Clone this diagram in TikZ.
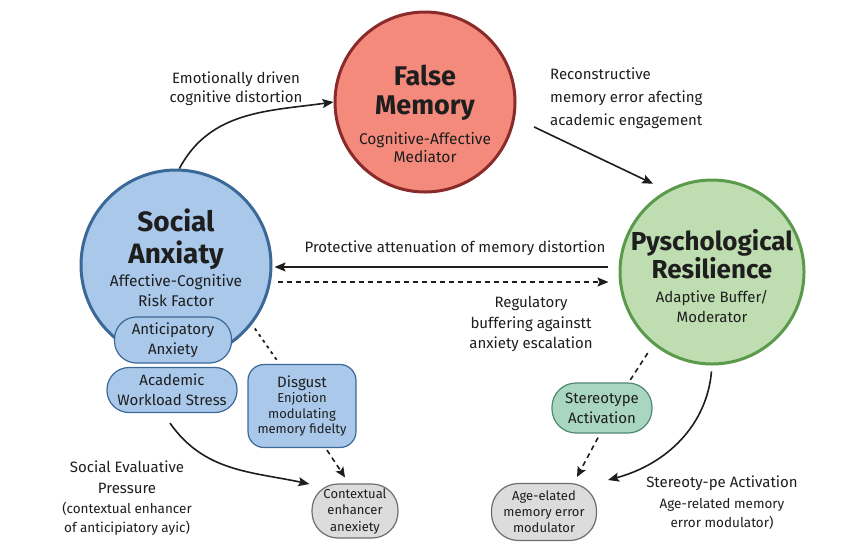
\documentclass[tikz,border=0pt]{standalone}
\usepackage{fontspec}
\setmainfont{Fira Sans}
\usetikzlibrary{arrows.meta}
\definecolor{safill}{HTML}{A9C8EA}
\definecolor{sadraw}{HTML}{3C6898}
\definecolor{fmfill}{HTML}{F48A7C}
\definecolor{fmdraw}{HTML}{8A2A2A}
\definecolor{prfill}{HTML}{BEDDB0}
\definecolor{prdraw}{HTML}{5A9A4A}
\definecolor{stfill}{HTML}{A9D6C0}
\definecolor{stdraw}{HTML}{4E8A70}
\definecolor{gyfill}{HTML}{DCDCDC}
\definecolor{gydraw}{HTML}{6E6E6E}
\definecolor{ink}{HTML}{1E1E1E}
\tikzset{
  bigcirc/.style={circle, line width=3pt, inner sep=0pt},
  titletxt/.style={font=\fontsize{27}{30}\selectfont\bfseries, text=ink, align=center, inner sep=0pt},
  subtxt/.style={font=\fontsize{15.5}{19}\selectfont, text=ink, align=center, inner sep=0pt},
  lbl/.style={font=\fontsize{15}{20}\selectfont, text=ink, align=center, inner sep=0pt},
  smlbl/.style={font=\fontsize{13.5}{19}\selectfont, text=ink, align=center, inner sep=0pt},
  pill/.style={draw, line width=1.2pt, align=center, inner sep=0pt, text=ink},
  bluepill/.style={pill, fill=safill, draw=sadraw, font=\fontsize{15}{20}\selectfont},
  conn/.style={draw=ink, line width=1.6pt, -{Stealth[length=11pt,width=9pt,inset=2pt]}},
  connplain/.style={draw=ink, line width=1.6pt},
  dashconn/.style={draw=ink, line width=1.6pt, dash pattern=on 5pt off 4pt},
  dotconn/.style={draw=ink, line width=1.8pt, dash pattern=on 3pt off 4pt},
}
\begin{document}
\begin{tikzpicture}[x=1pt,y=-1pt]
\useasboundingbox[fill=white] (0,0) rectangle (845,558);

% big circles
\node[bigcirc, fill=safill, draw=sadraw, minimum size=190pt] (sa) at (176,265) {};
\node[bigcirc, fill=fmfill, draw=fmdraw, minimum size=180pt] (fm) at (425,102) {};
\node[bigcirc, fill=prfill, draw=prdraw, minimum size=184pt] (pr) at (712,272) {};

% circle texts
\node[titletxt, font=\fontsize{28}{32}\selectfont\bfseries] (saT) at (176,239) {Social\\Anxiaty};
\node[subtxt, font=\fontsize{15.5}{20}\selectfont] (saS) at (176,291) {Affective-Cognitive\\Risk Factor};
\node[titletxt, font=\fontsize{27}{29}\selectfont\bfseries] (fmT) at (425,93) {False\\Memory};
\node[subtxt, font=\fontsize{15.5}{18}\selectfont] (fmS) at (425,148) {Cognitive-Affective\\Mediator};
\node[titletxt, font=\fontsize{26}{28}\selectfont\bfseries] (prT) at (712,254) {Pyschological\\Resilience};
\node[subtxt, font=\fontsize{15}{20}\selectfont] (prS) at (712,307) {Adaptive Buffer/\\Moderator};

% small nodes
\node[bluepill, rounded corners=22pt, minimum width=117pt, minimum height=46pt] (ant) at (173,340) {Anticipatory\\Anxiety};
\node[bluepill, rounded corners=22pt, minimum width=130pt, minimum height=45pt] (aws) at (172,390) {Academic\\Workload Stress};
\node[pill, fill=safill, draw=sadraw, rounded corners=16pt, minimum width=108pt, minimum height=83pt,
      font=\fontsize{13}{15.5}\selectfont] (dis) at (302,406) {{\fontsize{15}{17}\selectfont Disgust}\\Enjotion\\modulating\\memory fidelty};
\node[pill, fill=gyfill, draw=gydraw, rounded corners=26pt, minimum width=86pt, minimum height=54pt,
      font=\fontsize{13}{16.5}\selectfont] (ctx) at (355,511) {Contextual\\enhancer\\anexiety};
\node[pill, fill=stfill, draw=stdraw, rounded corners=24pt, minimum width=100pt, minimum height=50pt,
      font=\fontsize{15}{20}\selectfont] (ster) at (602,408) {Stereotype\\Activation};
\node[pill, fill=gyfill, draw=gydraw, rounded corners=27pt, minimum width=105pt, minimum height=57pt,
      font=\fontsize{13}{16}\selectfont] (age) at (544,512) {Age-elated\\memory error\\modulator};

% labels
\node[lbl, font=\fontsize{15}{19}\selectfont] (l1) at (236,89) {Emotionally driven\\cognitive distortion};
\node[lbl, font=\fontsize{15}{23}\selectfont, align=left, anchor=west] (l2) at (550,98) {Reconstructive\\memory error afecting\\academic engagement};
\node[lbl, anchor=base] (l3) at (455,252) {Protective attenuation of memory distortion};
\node[lbl, font=\fontsize{15}{20.5}\selectfont] (l4) at (531,324) {Regulatory\\buffering againstt\\anxiety escalation};
\node[lbl, font=\fontsize{15}{21}\selectfont] (l5) at (127,477) {Social Evaluative\\Pressure};
\node[smlbl] (l6) at (127,519) {(contextual enhancer\\of anticipiatory ayic)};
\node[lbl, anchor=base] (l7) at (722,487) {Stereoty-pe Activation};
\node[smlbl] (l8) at (722,514) {Age-related memory\\error modulator)};

\coordinate (agep) at (608,480);

% connectors
\draw[conn] (sa.88) to[out=62, in=188] (fm.west);
\draw[conn, shorten <=21pt, shorten >=15pt] (fm.-10) -- (pr.119);
\draw[conn] ([shift={(-11,-5)}]pr.west) -- ([shift={(2,2)}]sa.east);
\draw[dashconn, -{Stealth[length=11pt,width=9pt,inset=2pt]}] ([shift={(5,17)}]sa.east) -- ([shift={(-10,10)}]pr.west);
\draw[dotconn, shorten <=5pt] (sa.-38) -- ([shift={(30,-3)}]dis.north west);
\draw[dashconn, -{Stealth[length=10pt,width=9pt,inset=2pt]}] ([shift={(25,2)}]dis.south) -- ([shift={(-10,-6)}]ctx.north);
\draw[conn] ([shift={(-2,10)}]aws.south) to[out=-55, in=168] ([shift={(-2,-27)}]ctx.west);
\draw[dashconn, shorten <=10pt] (pr.-129) -- ([shift={(28,-2)}]ster.north);
\draw[dashconn, -{Stealth[length=10pt,width=9pt,inset=2pt]}] ([shift={(-4,4)}]ster.south) -- ([shift={(33,-6)}]age.north);
\draw[conn, shorten <=6pt] (pr.south) to[out=-95, in=15] (agep);
\end{tikzpicture}
\end{document}
